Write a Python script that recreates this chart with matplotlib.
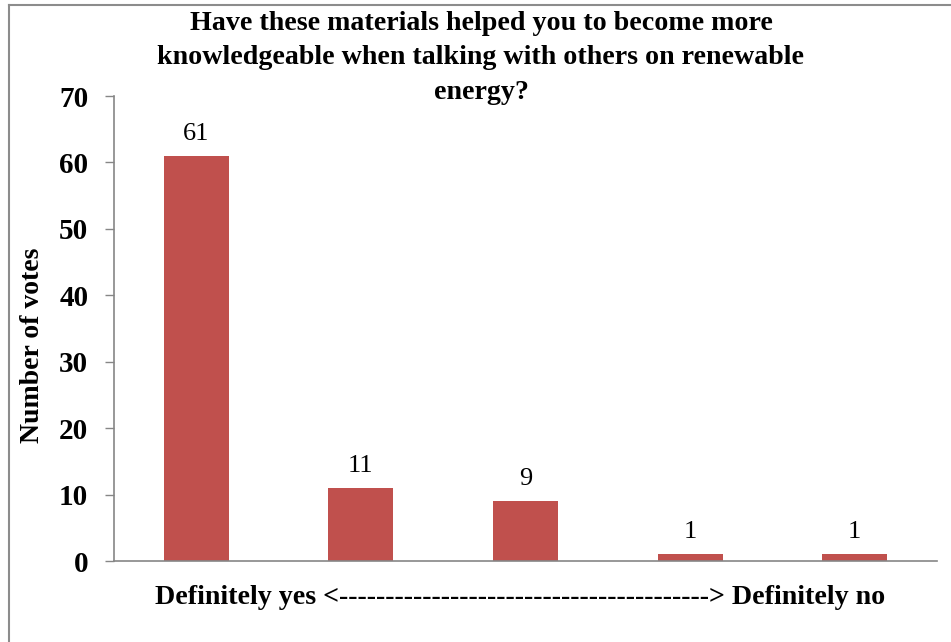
import matplotlib
matplotlib.use("Agg")
import matplotlib.pyplot as plt
from matplotlib.lines import Line2D

categories = ["Definitely yes", "2", "3", "4", "Definitely no"]
votes = [61, 11, 9, 1, 1]
yticks = [0, 10, 20, 30, 40, 50, 60, 70]
title = "Have these materials helped you to become more\nknowledgeable when talking with others on renewable\nenergy?"
ylabel = "Number of votes"
xlabel = "Definitely yes <" + "-" * 40 + "> Definitely no"

bar_color = "#C0504D"
serif = ["Liberation Serif", "DejaVu Serif"]

W, H = 951, 642
fig = plt.figure(figsize=(W / 100, H / 100), dpi=100)
ax = fig.add_axes([114 / W, 1 - 561 / H, (937 - 114) / W, (561 - 96) / H])

x = list(range(len(categories)))
ax.bar(x, votes, width=0.395, color=bar_color, zorder=2)
for xi, v in zip(x, votes):
    ax.annotate(str(v), (xi, v), xytext=(0, 8), textcoords="offset points",
                ha="center", va="bottom", fontsize=19, family=serif, color="black")

ax.set_xlim(-0.5, len(categories) - 0.5)
ax.set_ylim(0, 70)
ax.set_yticks(yticks)
ax.set_yticklabels([str(t) for t in yticks], fontsize=21, fontweight="bold", family=serif)
ax.set_xticks([])
ax.tick_params(axis="y", direction="out", length=6.5, width=1, color="#868686", pad=12)

for s in ["top", "right"]:
    ax.spines[s].set_visible(False)
for s in ["left", "bottom"]:
    ax.spines[s].set_color("#868686")
    ax.spines[s].set_linewidth(1.2)

fig.text(481 / W, 1 - 58 / H, title, ha="center", va="center", fontsize=20.2,
         fontweight="bold", family=serif, linespacing=1.5)
fig.text(520.5 / W, 1 - 598 / H, xlabel, ha="center", va="center", fontsize=20.2,
         fontweight="bold", family=serif)
fig.text(33 / W, 1 - 345 / H, ylabel, ha="center", va="center", rotation=90,
         fontsize=20, fontweight="bold", family=serif)

# outer chart border (cropped on right and bottom)
fig.add_artist(Line2D([8.5 / W, 8.5 / W], [0, 1 - 4.5 / H], transform=fig.transFigure,
                      color="#8c8c8c", lw=1.5))
fig.add_artist(Line2D([8.5 / W, 1], [1 - 4.5 / H, 1 - 4.5 / H], transform=fig.transFigure,
                      color="#8c8c8c", lw=1.5))

fig.savefig("out.png", dpi=100, facecolor="white")
